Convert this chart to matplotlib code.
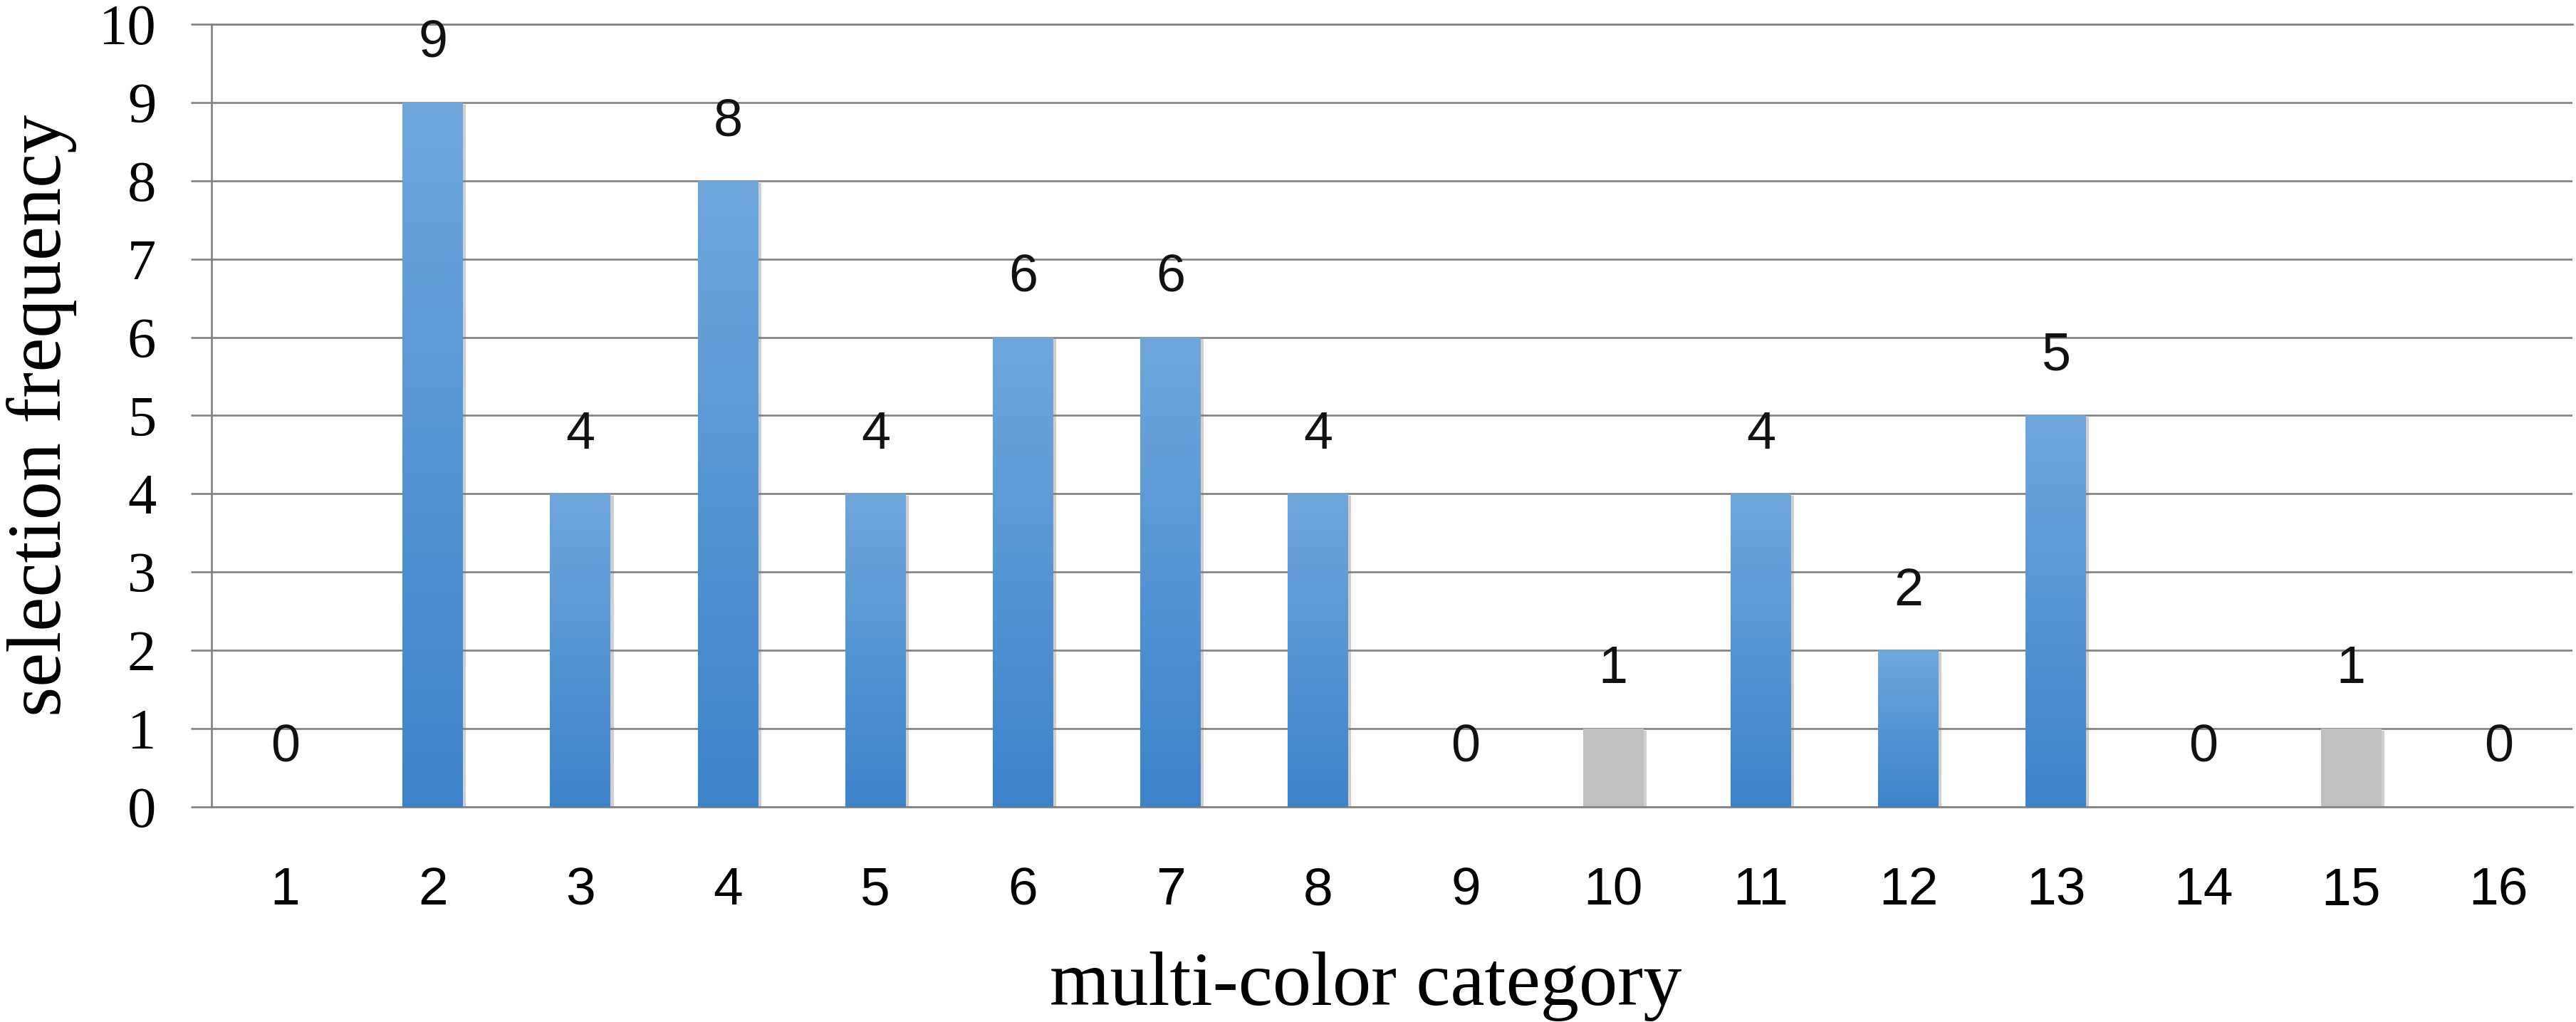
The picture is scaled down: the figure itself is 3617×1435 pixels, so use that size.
import numpy as np
import matplotlib
matplotlib.use("Agg")
import matplotlib.pyplot as plt
import matplotlib.patheffects as pe
from matplotlib.colors import LinearSegmentedColormap

# data
categories = [str(i) for i in range(1, 17)]
frequency = [0, 9, 4, 8, 4, 6, 6, 4, 0, 1, 4, 2, 5, 0, 1, 0]
bar_kind = ["blue", "blue", "blue", "blue", "blue", "blue", "blue", "blue",
            "blue", "gray", "blue", "blue", "blue", "blue", "gray", "blue"]

GRID = "#808080"
SERIF = "Liberation Serif"
SANS = "Liberation Sans"

fig = plt.figure(figsize=(36.17, 14.35), dpi=100)
ax = fig.add_axes([0.0821, 0.2105, 0.9165, 0.7658])

x = np.arange(1, len(categories) + 1)
bars = ax.bar(x, frequency, width=0.41, color="#5b9bd5", zorder=2)

# vertical gradient for the blue bars, gray solid for the others
blue_cmap = LinearSegmentedColormap.from_list("bb", ["#3d83cb", "#6fa7dd"])
grad = np.linspace(0, 1, 256).reshape(-1, 1)
for rect, kind in zip(bars, bar_kind):
    rect.set_path_effects([pe.SimplePatchShadow(offset=(3, -2), shadow_rgbFace="#777777", alpha=0.35),
                           pe.Normal()])
    if kind == "gray":
        rect.set_facecolor("#c0c0c0")
        continue
    h = rect.get_height()
    if h <= 0:
        rect.set_facecolor("none")
        continue
    x0 = rect.get_x()
    im = ax.imshow(grad, extent=[x0, x0 + rect.get_width(), 0, h], origin="lower",
                   cmap=blue_cmap, aspect="auto", zorder=3, interpolation="bicubic")
    im.set_clip_path(rect)

ax.set_xlim(0.5, 16.5)
ax.set_ylim(0, 10)

# data labels
ax.bar_label(bars, labels=[str(v) for v in frequency], padding=35,
             fontsize=53, family=SANS, color="#111111")

ax.set_xticks(x)
ax.set_xticklabels(categories, fontsize=54, family=SANS)
ax.set_yticks(range(0, 11))
ax.set_yticklabels([str(v) for v in range(0, 11)], fontsize=58, family=SERIF)

ax.tick_params(axis="x", length=0, pad=60)
ax.tick_params(axis="y", direction="out", length=21, width=1.9, color=GRID, pad=35)

ax.grid(axis="y", color=GRID, linewidth=1.9, zorder=0)
ax.set_axisbelow(True)

ax.spines["right"].set_visible(False)
for side in ["top", "left", "bottom"]:
    ax.spines[side].set_color(GRID)
    ax.spines[side].set_linewidth(1.9)

ax.set_ylabel("selection frequency", fontsize=78, family=SERIF, va="center")
ax.yaxis.set_label_coords(-0.072, 0.5)
ax.set_xlabel("multi-color category", fontsize=78, family=SERIF, va="center")
ax.xaxis.set_label_coords(0.489, -0.229)

fig.savefig("out.png", dpi=100)
